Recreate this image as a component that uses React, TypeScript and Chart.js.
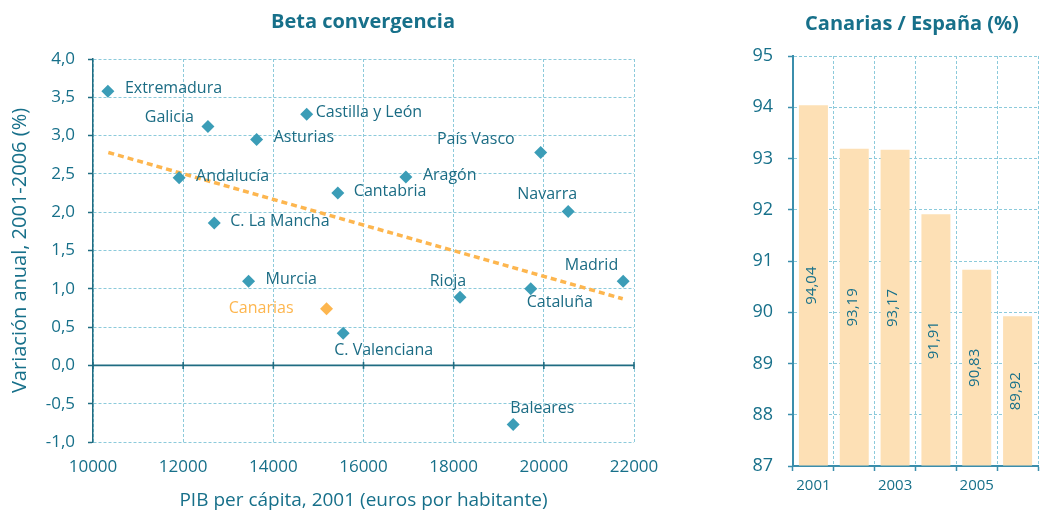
import React, { useEffect, useRef } from 'react';
import { Chart, registerables } from 'chart.js';
Chart.register(...registerables);

// ---------- data ----------
const regions = ['Extremadura', 'Galicia', 'Asturias', 'Castilla y León', 'Andalucía', 'C. La Mancha', 'Murcia', 'Canarias', 'C. Valenciana', 'Cantabria', 'Aragón', 'País Vasco', 'Navarra', 'Madrid', 'Rioja', 'Cataluña', 'Baleares'];
const pibPerCapita = [10330, 12550, 13630, 14740, 11910, 12690, 13450, 15180, 15550, 15430, 16940, 19930, 20540, 21760, 18140, 19710, 19320];
const annualGrowth = [3.58, 3.12, 2.95, 3.28, 2.45, 1.86, 1.10, 0.74, 0.42, 2.25, 2.46, 2.78, 2.01, 1.10, 0.89, 1.00, -0.77];
const trendX = [10340, 21750];
const trendY = [2.78, 0.87];
const years = ['2001', '2002', '2003', '2004', '2005', '2006'];
const canariasShare = [94.04, 93.19, 93.17, 91.91, 90.83, 89.92];

// ---------- styles ----------
const FONT = '"Open Sans", sans-serif';
const TEXT = '#17708a';
const LABEL = '#1b6c84';
const AXIS = '#1f6c82';
const AXIS2 = '#3b8eac';
const GRID = '#8ccadb';
const POINT = '#3b9db7';
const ORANGE = '#fdb64f';
const BAR = '#fde0b5';

// label placement [dx, dy, align] relative to each point
const labelPlacement: [number, number, CanvasTextAlign][] = [
  [17, -3, 'left'], [-14, -9, 'right'], [17, -2, 'left'], [9, -2, 'left'], [17, -1, 'left'],
  [16, -1, 'left'], [17, -2, 'left'], [-33, 0, 'right'], [-9, 17, 'left'], [16, -2, 'left'],
  [17, -2, 'left'], [-26, -13, 'right'], [-21, -17, 'center'], [-5, -16, 'right'], [-12, -16, 'center'],
  [-4, 14, 'left'], [-3, -16, 'left'],
];

const fmt1 = (v: number) => v.toFixed(1).replace('.', ',');
const fmt2 = (v: number) => v.toFixed(2).replace('.', ',');

const scatterPlugin = {
  id: 'scatterExtras',
  beforeDatasetsDraw(chart: any) {
    const { ctx, chartArea, scales } = chart;
    const y0 = scales.y.getPixelForValue(0);
    ctx.save();
    ctx.strokeStyle = AXIS;
    ctx.lineWidth = 1.6;
    ctx.beginPath();
    ctx.moveTo(chartArea.left, y0);
    ctx.lineTo(chartArea.right, y0);
    ctx.stroke();
    scales.x.ticks.forEach((t: any) => {
      const px = scales.x.getPixelForValue(t.value);
      ctx.beginPath();
      ctx.moveTo(px, y0 - 3.5);
      ctx.lineTo(px, y0 + 3.5);
      ctx.stroke();
    });
    ctx.restore();
  },
  afterDatasetsDraw(chart: any) {
    const { ctx } = chart;
    const meta = chart.getDatasetMeta(1);
    ctx.save();
    ctx.font = `16px ${FONT}`;
    ctx.textBaseline = 'middle';
    meta.data.forEach((el: any, i: number) => {
      const [dx, dy, align] = labelPlacement[i];
      ctx.fillStyle = regions[i] === 'Canarias' ? ORANGE : LABEL;
      ctx.textAlign = align;
      ctx.fillText(regions[i], el.x + dx, el.y + dy);
    });
    ctx.font = `bold 20px ${FONT}`;
    ctx.fillStyle = TEXT;
    ctx.textAlign = 'center';
    ctx.fillText('Beta convergencia', 363, 22);
    ctx.restore();
  },
};

const barPlugin = {
  id: 'barExtras',
  afterDatasetsDraw(chart: any) {
    const { ctx, chartArea } = chart;
    const meta = chart.getDatasetMeta(0);
    ctx.save();
    ctx.font = `15px ${FONT}`;
    ctx.fillStyle = TEXT;
    ctx.textAlign = 'center';
    ctx.textBaseline = 'middle';
    meta.data.forEach((el: any, i: number) => {
      ctx.save();
      ctx.translate(el.x - 2, (el.y + chartArea.bottom) / 2);
      ctx.rotate(-Math.PI / 2);
      ctx.fillText(fmt2(canariasShare[i]), 0, 0);
      ctx.restore();
    });
    ctx.font = `bold 20px ${FONT}`;
    ctx.fillText('Canarias / España (%)', 212, 24);
    ctx.restore();
  },
};

export default function App() {
  const leftRef = useRef<HTMLCanvasElement>(null);
  const rightRef = useRef<HTMLCanvasElement>(null);

  useEffect(() => {
    const c1 = new Chart(leftRef.current as HTMLCanvasElement, {
      type: 'scatter',
      data: {
        datasets: [
          {
            type: 'line',
            data: trendX.map((x, i) => ({ x, y: trendY[i] })),
            borderColor: ORANGE,
            borderWidth: 3.5,
            borderDash: [6, 4],
            pointRadius: 0,
            fill: false,
            order: 2,
          } as any,
          {
            data: pibPerCapita.map((x, i) => ({ x, y: annualGrowth[i] })),
            pointStyle: 'rectRot',
            pointRadius: 6.5,
            pointHoverRadius: 6.5,
            backgroundColor: regions.map((r) => (r === 'Canarias' ? ORANGE : POINT)),
            borderColor: regions.map((r) => (r === 'Canarias' ? ORANGE : POINT)),
            borderWidth: 0,
            order: 1,
          },
        ],
      },
      options: {
        animation: false,
        responsive: false,
        events: [],
        layout: { padding: { left: 0, right: 66, top: 59, bottom: 0 } },
        plugins: { legend: { display: false }, tooltip: { enabled: false } },
        scales: {
          x: {
            type: 'linear',
            min: 10000,
            max: 22000,
            ticks: { stepSize: 2000, color: TEXT, font: { family: FONT, size: 17 }, padding: 15, callback: (v: any) => String(v) },
            grid: { color: GRID, lineWidth: 1, drawTicks: false },
            border: { display: false, dash: [3, 2] },
            title: { display: true, text: 'PIB per cápita, 2001 (euros por habitante)', color: TEXT, font: { family: FONT, size: 19, lineHeight: 1.2 }, padding: { top: 0, bottom: 0 } },
            afterFit: (s: any) => { s.height = 70; },
          },
          y: {
            type: 'linear',
            min: -1,
            max: 4,
            ticks: { stepSize: 0.5, color: TEXT, font: { family: FONT, size: 17 }, padding: 13, callback: (v: any) => fmt1(Number(v)) },
            grid: { color: GRID, lineWidth: 1, drawTicks: true, tickLength: 5, tickColor: AXIS, tickWidth: 1.5, tickBorderDash: [] },
            border: { display: true, color: AXIS, width: 1.5, dash: [3, 2] },
            title: { display: true, text: 'Variación anual, 2001-2006 (%)', color: TEXT, font: { family: FONT, size: 20, lineHeight: 1.2 }, padding: { top: 8, bottom: 0 } },
            afterFit: (s: any) => { s.width = 93; },
          },
        },
      },
      plugins: [scatterPlugin],
    } as any);

    const c2 = new Chart(rightRef.current as HTMLCanvasElement, {
      type: 'bar',
      data: {
        labels: years,
        datasets: [
          {
            data: canariasShare,
            backgroundColor: BAR,
            barPercentage: 0.71,
            categoryPercentage: 1,
            base: 87,
          } as any,
        ],
      },
      options: {
        animation: false,
        responsive: false,
        events: [],
        layout: { padding: { left: 0, right: 2, top: 56, bottom: 0 } },
        plugins: { legend: { display: false }, tooltip: { enabled: false } },
        scales: {
          x: {
            ticks: { color: TEXT, font: { family: FONT, size: 15 }, padding: 6, autoSkip: false, maxRotation: 0, callback: (_v: any, i: number) => (i % 2 === 0 ? years[i] : '') },
            grid: { color: GRID, lineWidth: 1, offset: true, drawTicks: true, tickLength: 5, tickColor: AXIS2, tickWidth: 1.5, tickBorderDash: [] },
            border: { display: true, color: AXIS2, width: 2, dash: [3, 2] },
            afterFit: (s: any) => { s.height = 46; },
          },
          y: {
            min: 87,
            max: 95,
            ticks: { stepSize: 1, color: TEXT, font: { family: FONT, size: 18 }, padding: 15 },
            grid: { color: GRID, lineWidth: 1, drawTicks: true, tickLength: 5, tickColor: AXIS2, tickWidth: 1.5, tickBorderDash: [] },
            border: { display: true, color: AXIS2, width: 2, dash: [3, 2] },
            afterFit: (s: any) => { s.width = 93; },
          },
        },
      },
      plugins: [barPlugin],
    } as any);

    return () => {
      c1.destroy();
      c2.destroy();
    };
  }, []);

  return (
    <div style={{ position: 'absolute', left: 0, top: 0, width: 1040, height: 512, background: '#ffffff' }}>
      <canvas ref={leftRef} width={700} height={512} style={{ position: 'absolute', left: 0, top: 0 }} />
      <canvas ref={rightRef} width={340} height={512} style={{ position: 'absolute', left: 700, top: 0 }} />
    </div>
  );
}
